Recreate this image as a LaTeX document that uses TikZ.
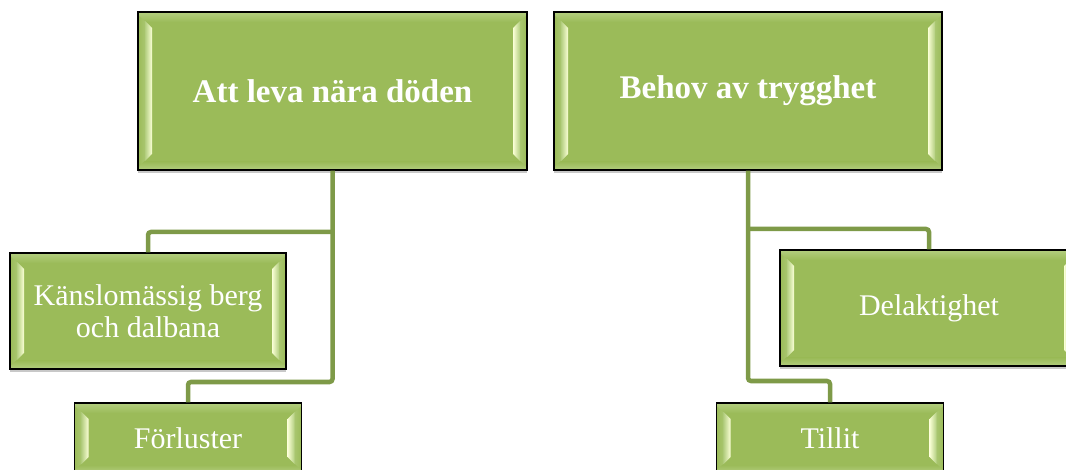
\documentclass[tikz,border=0pt]{standalone}
\usepackage{fontspec}
\setmainfont{Liberation Serif}
\usetikzlibrary{shadows,calc}

\definecolor{boxgreen}{HTML}{9BBB59}
\definecolor{bandgreen}{HTML}{B3CE7F}
\definecolor{glint}{HTML}{FAFFD6}
\definecolor{linkgreen}{HTML}{7E9A48}

\tikzset{
  bevelbox/.style={
    draw=black, line width=1.1pt, fill=boxgreen, text=white,
    align=center, inner sep=0pt,
    drop shadow={shadow xshift=0pt, shadow yshift=-3pt, opacity=0.3, fill=black!70},
    path picture={
      \coordinate (bb1) at (path picture bounding box.north west);
      \coordinate (bb2) at (path picture bounding box.south east);
      % light bands along top and bottom
      \shade[top color=bandgreen, bottom color=boxgreen]
        (bb1) rectangle ($(bb2 |- bb1)+(0,-10pt)$);
      \shade[top color=boxgreen, bottom color=bandgreen]
        ($(bb1 |- bb2)+(0,8pt)$) rectangle (bb2);
      % left bevel with its bright inner edge
      \shade[left color=boxgreen, right color=bandgreen]
        ($(bb1)+(0pt,-3pt)$) -- ($(bb1)+(12pt,-14pt)$) --
        ($(bb1 |- bb2)+(12pt,14pt)$) -- ($(bb1 |- bb2)+(0pt,3pt)$) -- cycle;
      \shade[left color=bandgreen, right color=glint]
        ($(bb1)+(7pt,-9pt)$) -- ($(bb1)+(14pt,-16pt)$) --
        ($(bb1 |- bb2)+(14pt,16pt)$) -- ($(bb1 |- bb2)+(7pt,9pt)$) -- cycle;
      % right bevel, mirrored
      \shade[right color=boxgreen, left color=bandgreen]
        ($(bb2 |- bb1)+(0pt,-3pt)$) -- ($(bb2 |- bb1)+(-12pt,-14pt)$) --
        ($(bb2)+(-12pt,14pt)$) -- ($(bb2)+(0pt,3pt)$) -- cycle;
      \shade[right color=bandgreen, left color=glint]
        ($(bb2 |- bb1)+(-7pt,-9pt)$) -- ($(bb2 |- bb1)+(-14pt,-16pt)$) --
        ($(bb2)+(-14pt,16pt)$) -- ($(bb2)+(-7pt,9pt)$) -- cycle;
    }
  },
  headbox/.style={bevelbox, font=\fontsize{33}{38}\selectfont\bfseries},
  itembox/.style={bevelbox, font=\fontsize{30}{32}\selectfont},
  link/.style={draw=linkgreen, line width=4.5pt, rounded corners=3pt},
}

\begin{document}
\begin{tikzpicture}[x=1pt, y=-1pt]
  \useasboundingbox (0,0) rectangle (1066,470);
  \fill[white] (0,0) rectangle (1066,470);
  \clip (0,0) rectangle (1066,470);

  % headings
  \node[headbox, minimum width=389pt, minimum height=158pt] (att) at (332.5,91) {Att leva nära döden};
  \node[headbox, minimum width=388pt, minimum height=158pt] (beh) at (748,91) {Behov av trygghet};

  % items under the first heading
  \node[itembox, minimum width=276pt, minimum height=116pt] (kans) at (148,311) {Känslomässig berg\\och dalbana};
  \node[itembox, minimum width=227pt, minimum height=70pt] (forl) at (188,438) {Förluster};

  % items under the second heading
  \node[itembox, minimum width=298pt, minimum height=116pt] (del) at (929,308) {Delaktighet};
  \node[itembox, minimum width=227pt, minimum height=70pt] (til) at (830,438) {Tillit};

  % connectors
  \draw[link] (att.south) -- (att.south |- 0,382) -| (forl.north);
  \draw[link] (att.south |- 0,232) -| (kans.north);
  \draw[link] (beh.south) -- (beh.south |- 0,381) -| (til.north);
  \draw[link] (beh.south |- 0,229) -| (del.north);
\end{tikzpicture}
\end{document}
